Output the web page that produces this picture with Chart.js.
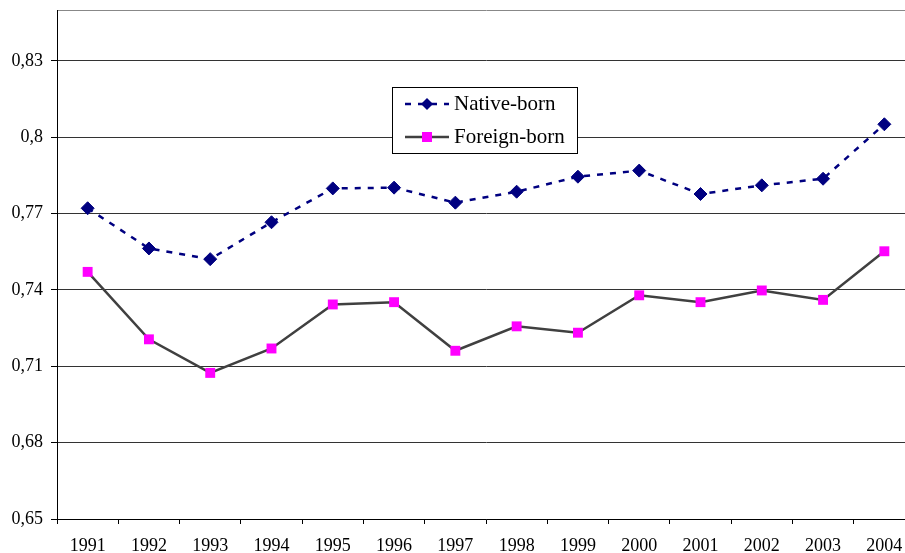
<!DOCTYPE html>
<html>
<head>
<meta charset="utf-8">
<script src="https://cdn.jsdelivr.net/npm/chart.js@4/dist/chart.umd.min.js"></script>
<style>
    body { margin: 0; overflow: hidden; background: #fff; }
    canvas { display: block; }
</style>
</head>
<body>
<canvas id="chart" width="925" height="553"></canvas>
<script>
// Datos del gráfico
const YEARS = ['1991', '1992', '1993', '1994', '1995', '1996', '1997', '1998', '1999', '2000', '2001', '2002', '2003', '2004'];
const NATIVE_BORN = [0.7721, 0.7563, 0.7521, 0.7666, 0.7799, 0.7802, 0.7743, 0.7786, 0.7845, 0.7869, 0.7777, 0.7811, 0.7837, 0.8051];
const FOREIGN_BORN = [0.7471, 0.7206, 0.7074, 0.7170, 0.7343, 0.7352, 0.7161, 0.7257, 0.7232, 0.7379, 0.7352, 0.7398, 0.7361, 0.7552];
const Y_TICKS = [0.65, 0.68, 0.71, 0.74, 0.77, 0.8, 0.83];
const Y_MIN = 0.65;
const Y_MAX = 0.85;

const FONT = 'Liberation Serif';

// Leyenda dentro del área del gráfico
const legendBox = {
    id: 'legendBox',
    afterDraw(chart) {
        const ctx = chart.ctx;
        ctx.save();
        ctx.fillStyle = '#fff';
        ctx.fillRect(392.5, 87.5, 185, 66);
        ctx.strokeStyle = '#000';
        ctx.lineWidth = 1;
        ctx.strokeRect(392.5, 87.5, 185, 66);

        // Native-born: línea discontinua y rombo
        ctx.strokeStyle = '#000080';
        ctx.lineWidth = 2.5;
        ctx.setLineDash([6, 7]);
        ctx.beginPath();
        ctx.moveTo(405, 104);
        ctx.lineTo(449, 104);
        ctx.stroke();
        ctx.setLineDash([]);
        ctx.fillStyle = '#000080';
        ctx.beginPath();
        ctx.moveTo(427, 98);
        ctx.lineTo(433, 104);
        ctx.lineTo(427, 110);
        ctx.lineTo(421, 104);
        ctx.closePath();
        ctx.fill();

        // Foreign-born: línea continua y cuadrado
        ctx.strokeStyle = '#404040';
        ctx.lineWidth = 2.5;
        ctx.beginPath();
        ctx.moveTo(405, 137);
        ctx.lineTo(449, 137);
        ctx.stroke();
        ctx.fillStyle = '#ff00ff';
        ctx.fillRect(422, 132, 10, 10);

        ctx.fillStyle = '#000';
        ctx.font = `21px "${FONT}"`;
        ctx.textBaseline = 'middle';
        ctx.fillText('Native-born', 454, 104);
        ctx.fillText('Foreign-born', 454, 137);
        ctx.restore();
    }
};

new Chart(document.getElementById('chart'), {
    type: 'line',
    data: {
        labels: YEARS,
        datasets: [{
            label: 'Native-born',
            data: NATIVE_BORN,
            borderColor: '#000080',
            borderWidth: 2.5,
            borderDash: [6, 7],
            pointStyle: 'rectRot',
            pointRadius: 6.5,
            pointBackgroundColor: '#000080',
            pointBorderColor: '#000080',
            pointBorderWidth: 1,
            tension: 0
        }, {
            label: 'Foreign-born',
            data: FOREIGN_BORN,
            borderColor: '#404040',
            borderWidth: 2.5,
            pointStyle: 'rect',
            pointRadius: 7,
            pointBackgroundColor: '#ff00ff',
            pointBorderColor: '#ff00ff',
            pointBorderWidth: 0,
            tension: 0
        }]
    },
    options: {
        responsive: false,
        animation: false,
        layout: {
            padding: { top: 10, right: 10, left: 0, bottom: 0 }
        },
        plugins: {
            legend: { display: false },
            tooltip: { enabled: false }
        },
        scales: {
            x: {
                offset: true,
                grid: {
                    offset: true,
                    drawOnChartArea: false,
                    tickLength: 5,
                    tickColor: '#000'
                },
                border: { color: '#000', width: 1 },
                ticks: {
                    autoSkip: false,
                    maxRotation: 0,
                    padding: 11,
                    color: '#000',
                    font: { family: FONT, size: 18 }
                },
                afterFit: (scale) => {
                    scale.height = 34;
                    scale.paddingLeft = 0;
                    scale.paddingRight = 0;
                }
            },
            y: {
                min: Y_MIN,
                max: Y_MAX,
                afterBuildTicks: (scale) => {
                    scale.ticks = Y_TICKS.concat([Y_MAX]).map(v => ({ value: v }));
                },
                grid: {
                    color: (ctx) => ctx.tick && ctx.tick.value === Y_MAX ? '#888' : '#333',
                    tickColor: (ctx) => ctx.tick && ctx.tick.value === Y_MAX ? 'rgba(0,0,0,0)' : '#000',
                    tickLength: 6
                },
                border: { color: '#000', width: 1 },
                ticks: {
                    padding: 8,
                    color: '#000',
                    font: { family: FONT, size: 18 },
                    callback: (value) => value === Y_MAX ? '' : String(Number(value.toFixed(2))).replace('.', ',')
                },
                afterFit: (scale) => {
                    scale.width = 57;
                    scale.paddingTop = 0;
                    scale.paddingBottom = 0;
                }
            }
        }
    },
    plugins: [legendBox]
});
</script>
</body>
</html>
